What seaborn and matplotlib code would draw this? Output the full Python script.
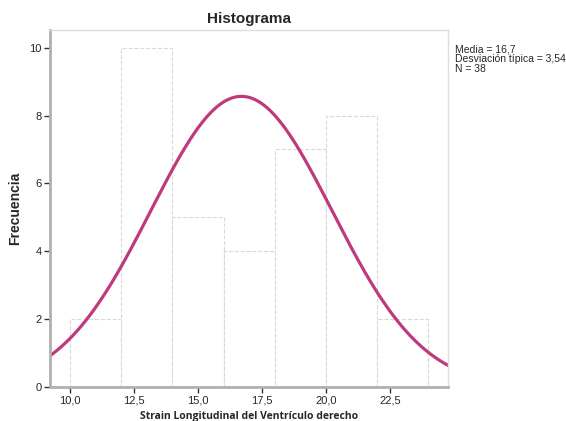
import numpy as np
import pandas as pd
import matplotlib
matplotlib.use("Agg")
import matplotlib.pyplot as plt
import seaborn as sns

bin_edges = [10, 12, 14, 16, 18, 20, 22, 24]
counts = [2, 10, 5, 4, 7, 8, 2]
media = 16.7
desv = 3.54
n = 38
x_ticks = [10.0, 12.5, 15.0, 17.5, 20.0, 22.5]
y_ticks = [0, 2, 4, 6, 8, 10]

sns.set_style("white")
plt.rcParams["font.family"] = ["Liberation Sans", "DejaVu Sans"]

df = pd.DataFrame({
    "centro": [(a + b) / 2 for a, b in zip(bin_edges[:-1], bin_edges[1:])],
    "frecuencia": counts,
})

fig = plt.figure(figsize=(5.66, 4.21), dpi=100)
ax = fig.add_axes([0.0883, 0.0808, 0.7032, 0.8479])

sns.histplot(data=df, x="centro", weights="frecuencia", bins=bin_edges,
             color="white", edgecolor="#d9d9d9", linestyle="--", linewidth=0.8,
             alpha=1, ax=ax)

# curva normal ajustada (media, desviación y N del cuadro)
xs = np.linspace(9.0, 25.0, 300)
ys = n * 2 * np.exp(-0.5 * ((xs - media) / desv) ** 2) / (desv * np.sqrt(2 * np.pi))
sns.lineplot(x=xs, y=ys, color="#be3a7d", linewidth=2.3, ax=ax)

ax.set_xlim(9.22, 24.77)
ax.set_ylim(0, 10.52)
ax.set_xticks(x_ticks)
ax.set_xticklabels([f"{v:.1f}".replace(".", ",") for v in x_ticks], fontsize=8)
ax.set_yticks(y_ticks)
ax.set_yticklabels([str(v) for v in y_ticks], fontsize=8)
ax.tick_params(axis="both", direction="out", length=4, width=1, color="#333333",
               bottom=True, left=True, pad=2)

for s in ["left", "bottom"]:
    ax.spines[s].set_color("#b0b0b0")
    ax.spines[s].set_linewidth(2)
for s in ["top", "right"]:
    ax.spines[s].set_color("#dddddd")
    ax.spines[s].set_linewidth(1)

ax.set_title("Histograma", fontsize=11, fontweight="bold", pad=5)
ax.set_ylabel("Frecuencia", fontsize=10, fontweight="bold", va="center")
ax.yaxis.set_label_coords(-0.088, 0.5)
ax.set_xlabel("Strain Longitudinal del Ventrículo derecho", fontsize=7.5,
              fontweight="bold", family=["Open Sans", "DejaVu Sans"], va="center")
ax.xaxis.set_label_coords(0.5, -0.083)

fig.text(455 / 566, 1 - 45 / 421,
         "Media = 16,7\nDesviación típica = 3,54\nN = 38",
         fontsize=7.5, va="top", ha="left", linespacing=0.92)

fig.savefig("out.png", dpi=100)
